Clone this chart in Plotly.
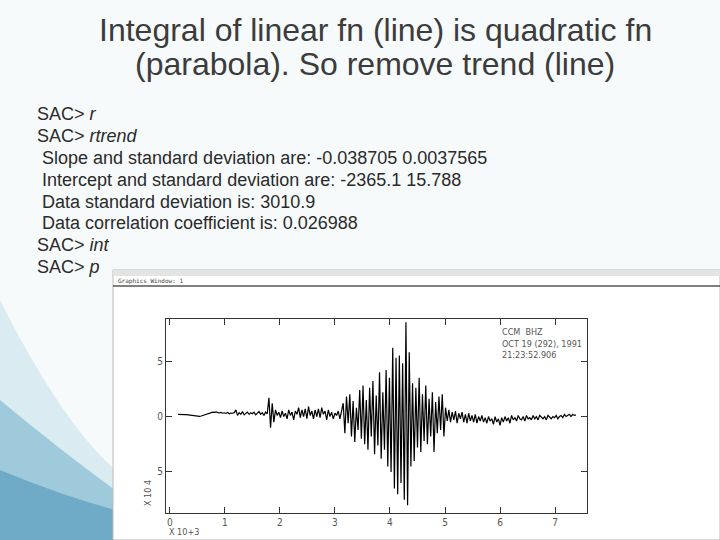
import plotly.graph_objects as go

t0 = 0.15
dt = 0.03
amp = [0.2,0.21,0.19,0.2,0.18,0.17,0.15,0.12,0.08,0.05,0.03,0.01,0.0,0.02,0.05,0.1,0.16,0.22,0.27,0.32,0.36,0.4,0.38,0.42,0.36,0.33,0.37,0.3,0.34,0.28,0.36,0.25,0.32,0.3,0.35,
0.6,0.1,0.35,0.2,0.45,0.15,0.3,0.4,0.2,0.35,0.25,0.4,0.15,0.3,0.45,0.2,0.35,0.1,0.4,0.25,
1.7,-1.0,1.2,-0.5,0.6,
0.1,0.4,-0.1,0.5,0.0,0.3,-0.2,0.6,0.1,0.4,-0.3,0.5,0.2,0.8,-0.1,0.6,0.0,0.7,-0.2,0.9,0.1,0.5,-0.2,0.6,0.0,0.7,-0.1,0.8,0.2,0.5,-0.3,0.6,0.0,0.4,-0.2,0.3,0.1,0.5,-0.2,0.4,
1.2,-1.5,1.8,-0.6,2.0,-1.8,1.4,-2.3,0.8,-1.2,2.4,-2.0,
2.8,-2.5,1.5,-3.0,2.6,-1.8,3.2,-3.4,1.9,-2.6,4.0,-3.8,2.2,-3.0,4.2,-4.5,3.5,
-5.0,6.2,-6.5,5.3,-7.0,5.5,-6.0,4.8,-7.5,8.5,-8.0,5.8,-4.5,
3.0,-4.0,2.6,-2.8,3.5,-3.2,2.0,-2.2,2.8,-2.5,1.6,-1.8,2.2,-3.2,1.3,-1.5,1.8,-1.2,2.0,-1.8,
0.8,-0.4,0.6,-0.5,0.4,-0.3,0.5,-0.6,0.3,-0.2,0.4,-0.5,0.2,-0.6,0.3,-0.4,0.1,-0.5,0.2,-0.6,0.0,-0.4,0.1,-0.5,-0.1,-0.6,0.0,-0.4,-0.2,-0.7,0.0,-0.5,-0.2,
-0.8,-0.1,-0.5,0.0,-0.4,-0.1,-0.6,0.1,-0.3,-0.1,-0.4,0.1,-0.2,-0.3,0.0,-0.4,0.1,-0.2,-0.1,-0.3,0.1,-0.2,0.0,-0.3,0.1,-0.1,-0.2,0.0,-0.3,0.1,-0.1,-0.2,0.0,-0.1,0.1,-0.2,0.0,0.1,-0.1,0.2,0.0,0.1,0.2,0.0,0.2,0.1,0.15]
times = [t0 + dt*i for i in range(len(amp))]

title_lines = ["Integral of linear fn (line) is quadratic fn", "(parabola). So remove trend (line)"]
lines = ["SAC> <i>r</i>", "SAC> <i>rtrend</i>",
         " Slope and standard deviation are: -0.038705 0.0037565",
         " Intercept and standard deviation are: -2365.1 15.788",
         " Data standard deviation is: 3010.9",
         " Data correlation coefficient is: 0.026988",
         "SAC> <i>int</i>", "SAC> <i>p</i>"]
ytick_vals = [-5, 0, 5]
ytick_text = ["5", "0", "5"]
xtick_vals = [0, 1, 2, 3, 4, 5, 6, 7]
label_lines = ["CCM  BHZ", "OCT 19 (292), 1991", "21:23:52.906"]

W, H = 720, 540
def px(x): return x / W
def py(y): return 1 - y / H

fig = go.Figure()
fig.add_trace(go.Scatter(x=times, y=amp, mode="lines",
                         line=dict(color="black", width=1.2), hoverinfo="skip"))

shapes = []
shapes.append(dict(type="path", xref="paper", yref="paper", layer="below",
    path=f"M 0 {py(300)} Q {px(60)} {py(420)} {px(115)} {py(470)} L {px(115)} 0 L 0 0 Z",
    fillcolor="rgba(190,220,232,0.5)", line_width=0))
shapes.append(dict(type="path", xref="paper", yref="paper", layer="below",
    path=f"M 0 {py(400)} Q {px(60)} {py(450)} {px(115)} {py(490)} L {px(115)} 0 L 0 0 Z",
    fillcolor="rgba(120,180,205,0.6)", line_width=0))
shapes.append(dict(type="path", xref="paper", yref="paper", layer="below",
    path=f"M 0 {py(470)} Q {px(60)} {py(495)} {px(115)} {py(510)} L {px(115)} 0 L 0 0 Z",
    fillcolor="rgba(80,150,185,0.6)", line_width=0))
shapes.append(dict(type="rect", xref="paper", yref="paper", layer="below",
    x0=px(113), x1=1, y0=0, y1=py(270), fillcolor="white", line=dict(color="#bbb", width=1)))
shapes.append(dict(type="rect", xref="paper", yref="paper", layer="below",
    x0=px(113), x1=1, y0=py(276), y1=py(270), fillcolor="#e4e4e4", line_width=0))
shapes.append(dict(type="line", xref="paper", yref="paper",
    x0=px(113), x1=1, y0=py(286), y1=py(286), line=dict(color="black", width=1)))

ann = []
for i, s in enumerate(title_lines):
    ann.append(dict(text=s, x=px(375), y=py(30 + 34 * i), xref="paper", yref="paper",
                    xanchor="center", yanchor="middle", showarrow=False,
                    font=dict(family="Liberation Sans", size=32, color="#3c3c3c")))
for i, s in enumerate(lines):
    ann.append(dict(text=s.replace(" ", "&nbsp;", 1) if s.startswith(" ") else s,
                    x=px(35), y=py(114 + 21.9 * i), xref="paper", yref="paper",
                    xanchor="left", yanchor="middle", showarrow=False,
                    font=dict(family="Liberation Sans", size=18, color="#2a2a2a")))
ann.append(dict(text="Graphics Window: 1", x=px(116), y=py(281), xref="paper", yref="paper",
                xanchor="left", yanchor="middle", showarrow=False,
                font=dict(family="DejaVu Sans Mono", size=6, color="#444")))
ann.append(dict(text="<br>".join(label_lines), x=px(500), y=py(325), xref="paper", yref="paper",
                xanchor="left", yanchor="top", showarrow=False, align="left",
                font=dict(family="DejaVu Sans Condensed", size=9, color="#555")))
ann.append(dict(text="X 10+3", x=px(167), y=py(532), xref="paper", yref="paper",
                xanchor="left", yanchor="middle", showarrow=False,
                font=dict(family="DejaVu Sans Condensed", size=9, color="#555")))
ann.append(dict(text="X 10 4", x=px(148), y=py(493), xref="paper", yref="paper",
                xanchor="center", yanchor="middle", showarrow=False, textangle=-90,
                font=dict(family="DejaVu Sans Condensed", size=9, color="#555")))

fig.update_layout(
    width=W, height=H, margin=dict(l=0, r=0, t=0, b=0),
    paper_bgcolor="#f7fafb", plot_bgcolor="white", showlegend=False,
    shapes=shapes, annotations=ann,
    xaxis=dict(domain=[px(166), px(587)], range=[-0.07, 7.58], tickvals=xtick_vals,
               ticks="inside", ticklen=6, tickcolor="#333", showgrid=False, zeroline=False,
               showline=True, linecolor="#333", mirror="ticks",
               tickfont=dict(family="DejaVu Sans Condensed", size=10, color="#555")),
    yaxis=dict(domain=[py(513), py(319)], range=[-8.7, 8.8], tickvals=ytick_vals,
               ticktext=ytick_text, ticks="inside", ticklen=6, tickcolor="#333",
               showgrid=False, zeroline=False, showline=True, linecolor="#333", mirror="ticks",
               tickfont=dict(family="DejaVu Sans Condensed", size=10, color="#555")),
)
fig.write_html("out.html", config={"displayModeBar": False},
               post_script="document.body.style.margin='0';document.body.style.overflow='hidden';")
